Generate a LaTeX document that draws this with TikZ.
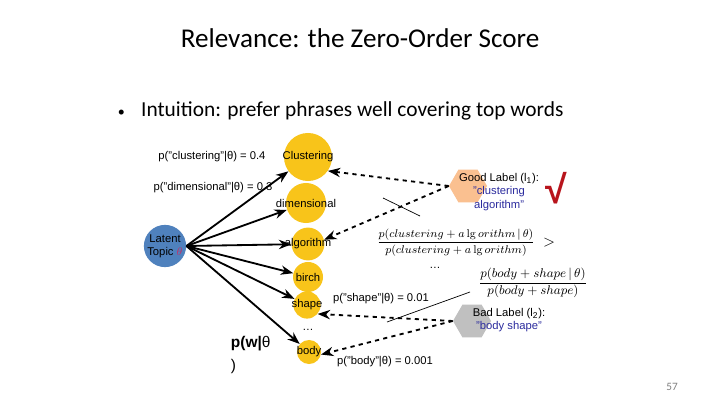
\documentclass[tikz,border=0pt]{standalone}
\usepackage{amsmath}
\usepackage[no-math]{fontspec}
\setmainfont{Liberation Sans}
\newfontfamily\slidefont{Carlito}
\usetikzlibrary{arrows.meta, shapes.geometric, positioning}
\definecolor{gold}{HTML}{F8C41A}
\definecolor{topicblue}{HTML}{4F81BD}
\definecolor{peach}{HTML}{FAC090}
\definecolor{labelgrey}{HTML}{C0C0C0}
\definecolor{navy}{HTML}{2B2B9E}
\definecolor{checkred}{HTML}{B8141C}
\definecolor{thetared}{HTML}{C0306A}

\begin{document}
\begin{tikzpicture}[
        x=0.025cm, y=-0.025cm,
        font=\fontsize{8}{9.5}\selectfont,
        >=Stealth,
        word/.style={circle, fill=gold, inner sep=0pt, minimum size=#1},
        topic/.style={circle, fill=topicblue, inner sep=0pt, minimum size=1.05cm, align=center},
        hexa/.style={regular polygon, regular polygon sides=6, inner sep=0pt, minimum size=0.95cm},
        prob/.style={inner sep=1pt},
        arrow/.style={->, line width=1.3pt},
        pick/.style={->, dashed, line width=1.3pt},
        cross/.style={line width=0.5pt}
    ]
        \useasboundingbox[fill=white] (0,0) rectangle (720,405);

        \node[font=\slidefont\fontsize{19.3}{22}\selectfont] (title) at (360,38) {Relevance: the Zero-Order Score};
        \node[font=\slidefont\fontsize{15.2}{18}\selectfont, anchor=west] (intuition) at (113,111)
            {\makebox[16.5pt][l]{\fontsize{10}{10}\selectfont\textbullet}Intuition: prefer phrases well covering top words};

        % topic and its words
        \node[topic] (latent) at (165,246) {Latent\\Topic {\color{thetared}$\theta$}};

        \node[word=1.2cm, label=center:Clustering] (clust) at (308,157) {};
        \node[word=1.0cm, label=center:dimensional] (dim) at (306,203) {};
        \node[word=0.82cm, label=center:algorithm] (algo) at (308,244) {};
        \node[word=0.75cm, label=center:birch] (birch) at (308,277) {};
        \node[word=0.68cm, label=center:shape] (shape) at (307,305) {};
        \node (wdots) at (308,330) {\dots};
        \node[word=0.6cm, label=center:body] (body) at (309,352) {};

        \node[prob] (pclust) at (212,157) {p("clustering"|θ) = 0.4};
        \node[prob] (pdim) at (213,188) {p("dimensional"|θ) = 0.3};
        \node[prob] (pshape) at (381,299) {p("shape"|θ) = 0.01};
        \node[prob] (pbody) at (385,362) {p("body"|θ) = 0.001};

        \node[font=\fontsize{11}{16}\selectfont, align=left, anchor=west] (pw) at (226,355)
            {\textbf{p(w|}θ\\)};

        % labels
        \node[hexa, fill=peach] (good) at (468,186) {};
        \node[align=center] (goodtext) at (499,192)
            {Good Label (l\textsubscript{1}):\\\textcolor{navy}{"clustering}\\\textcolor{navy}{algorithm"}};
        \node[text=checkred, font=\bfseries\fontsize{28}{28}\selectfont] (check) at (556,188) {√};

        \node[hexa, fill=labelgrey] (bad) at (472,321) {};
        \node[align=center] (badtext) at (509,320)
            {Bad Label (l\textsubscript{2}):\\\textcolor{navy}{"body shape"}};

        % scores
        \node[font=\fontsize{8.2}{10}\selectfont] (goodscore) at (456,243)
            {$\dfrac{p(clustering+a\lg orithm\,|\,\theta)}{p(clustering+a\lg orithm)}$};
        \node[font=\fontsize{11}{13}\selectfont] (gt) at (549,243) {$>$};
        \node (sdots) at (435,268) {\dots};
        \node[font=\fontsize{9}{11}\selectfont] (badscore) at (533,283)
            {$\dfrac{p(body+shape\,|\,\theta)}{p(body+shape)}$};

        \node[text=gray, font=\slidefont\fontsize{8}{10}\selectfont] (page) at (672,387) {57};

        \draw[arrow] (latent.east) -- (clust);
        \draw[arrow] (latent.east) -- (dim);
        \draw[arrow] (latent.east) -- (algo);
        \draw[arrow] (latent.east) -- (birch);
        \draw[arrow] (latent.east) -- (shape);
        \draw[arrow] (latent.east) -- (body);

        \draw[pick] (good.west) -- (clust.-35);
        \draw[pick] (good.west) -- (algo.15);
        \draw[pick] (bad.west) -- (shape.-40);
        \draw[pick] (bad.west) -- (body.-12);

        \coordinate (c1) at (383,198);
        \coordinate (c2) at (420,216);
        \coordinate (c3) at (387,322);
        \coordinate (c4) at (470,292);
        \draw[cross] (c1) -- (c2);
        \draw[cross] (c3) -- (c4);
    \end{tikzpicture}
\end{document}
